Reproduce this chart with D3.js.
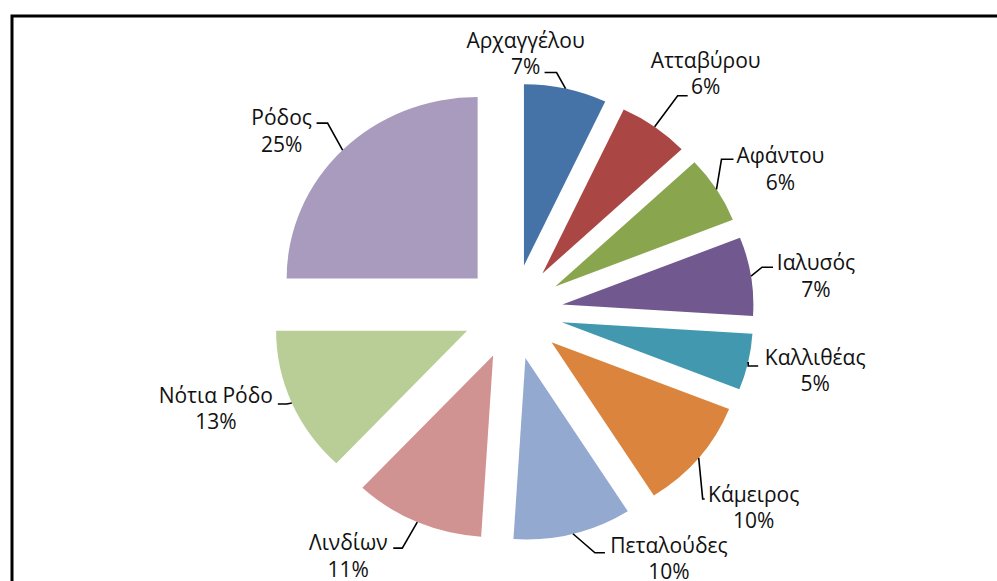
<!DOCTYPE html>
<html>
<head>
<meta charset="utf-8">
<script src="https://cdn.jsdelivr.net/npm/d3@7"></script>
<style>
  body { margin: 0; background: #fff; }
  svg { display: block; }
</style>
</head>
<body>
<div id="chart"></div>
<script>
'use strict';

// data
var regions = ['Αρχαγγέλου', 'Ατταβύρου', 'Αφάντου', 'Ιαλυσός', 'Καλλιθέας',
               'Κάμειρος', 'Πεταλούδες', 'Λινδίων', 'Νότια Ρόδο', 'Ρόδος'];
var shares = [7, 6, 6, 7, 5, 10, 10, 11, 13, 25];
var colors = ['#4572A7', '#AA4643', '#89A54E', '#71588F', '#4198AF',
              '#DB843D', '#93A9CF', '#D19392', '#B9CD96', '#A99BBD'];

// label layout, offsets from the point where the leader meets the slice
// [elbow dx, elbow dy, end dx, end dy, text cx, text baseline]
var labelOffsets = [
    [-9, -16, -21, -16, -40, -41],
    [23, -31, 33, -31, 51, -59],
    [5, -30, 17, -30, 64, -26],
    [11, -9, 22, -9, 65, -6],
    [0, 4, 10, 4, 67, 3],
    [4, 41, 6, 41, 55, 44],
    [22, 19, 32, 19, 96, 19],
    [-15, 26, -24, 26, -69, 28],
    [-5, 1, -14, 1, -76, 0],
    [-15, -27, -26, -27, -61, -25]
];

var w = 997;
var h = 581;
var cx = 513;
var cy = 312;
var r = 191;
var explode = 50;
var sy = 0.95;   // picture is a bit squashed vertically

var svg = d3.select('#chart')
        .append('svg')
        .attr('width', w)
        .attr('height', h);

svg.append('rect')
        .attr('width', w)
        .attr('height', h)
        .attr('fill', '#fff');

// chart frame (runs off the right and bottom edges)
svg.append('rect')
        .attr('x', 12)
        .attr('y', 16)
        .attr('width', 1100)
        .attr('height', 700)
        .attr('fill', 'none')
        .attr('stroke', '#000')
        .attr('stroke-width', 3);

var pie = d3.pie().sort(null).value(function (d) { return d; });
var arcs = pie(shares);
var arc = d3.arc().innerRadius(0).outerRadius(r);

function mid(d) {
    return (d.startAngle + d.endAngle) / 2;
}

var g = svg.append('g')
        .attr('transform', 'translate(' + cx + ',' + cy + ') scale(1,' + sy + ')');

g.selectAll('path')
        .data(arcs)
        .enter()
        .append('path')
        .attr('d', arc)
        .attr('fill', function (d, i) { return colors[i]; })
        .attr('transform', function (d) {
            var a = mid(d);
            return 'translate(' + (explode * Math.sin(a)) + ',' + (-explode * Math.cos(a)) + ')';
        });

// anchor on the outer edge of each exploded slice
var anchors = arcs.map(function (d) {
    var a = mid(d);
    return [cx + (r + explode) * Math.sin(a), cy - sy * (r + explode) * Math.cos(a)];
});

var labels = svg.append('g');

labels.selectAll('polyline')
        .data(arcs)
        .enter()
        .append('polyline')
        .attr('points', function (d, i) {
            var p = anchors[i];
            var o = labelOffsets[i];
            return [p, [p[0] + o[0], p[1] + o[1]], [p[0] + o[2], p[1] + o[3]]].join(' ');
        })
        .attr('fill', 'none')
        .attr('stroke', '#000')
        .attr('stroke-width', 1.6);

var text = labels.selectAll('text')
        .data(arcs)
        .enter()
        .append('text')
        .attr('text-anchor', 'middle')
        .attr('font-family', '"Open Sans", "Noto Sans", sans-serif')
        .attr('font-size', '21px')
        .attr('fill', '#111')
        .attr('transform', function (d, i) {
            var p = anchors[i];
            var o = labelOffsets[i];
            return 'translate(' + (p[0] + o[4]) + ',' + (p[1] + o[5]) + ')';
        });

text.append('tspan')
        .attr('x', 0)
        .attr('y', 0)
        .text(function (d, i) { return regions[i]; });

text.append('tspan')
        .attr('x', 0)
        .attr('y', 26.5)
        .text(function (d, i) { return shares[i] + '%'; });
</script>
</body>
</html>
